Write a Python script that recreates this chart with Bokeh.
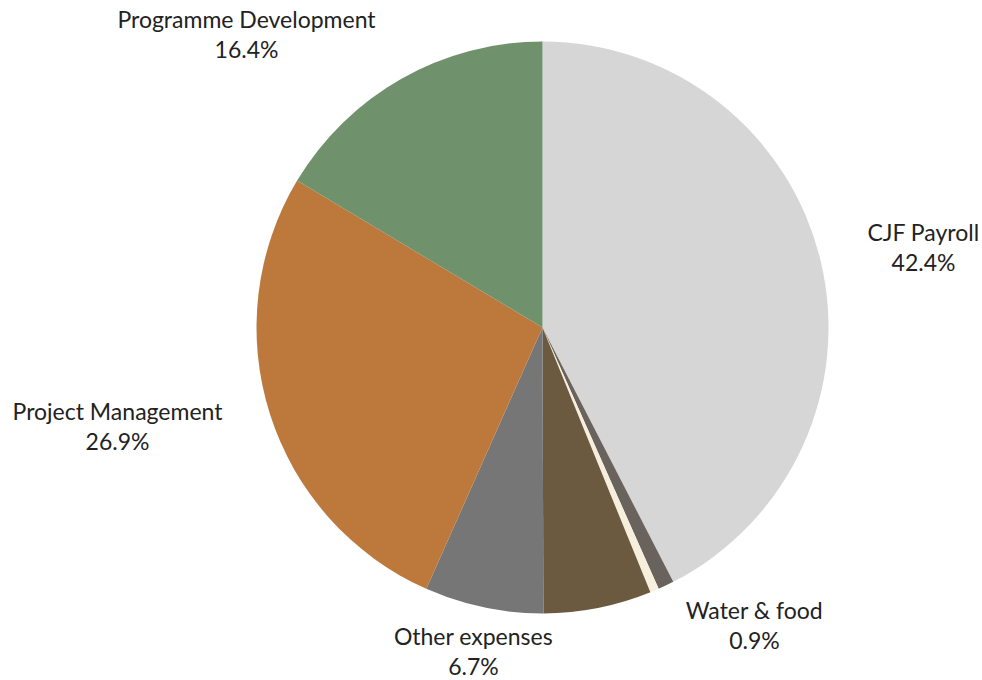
import math
from bokeh.plotting import figure
from bokeh.models import Range1d, ColumnDataSource
from bokeh.core.properties import value
from bokeh.embed import file_html
from bokeh.resources import INLINE

# ---- data (clockwise from 12 o'clock) ----
categories = ["CJF Payroll", "Water & food", "Unlabelled A", "Unlabelled B",
              "Other expenses", "Project Management", "Programme Development"]
shares = [42.4, 0.9, 0.5, 6.1, 6.7, 26.9, 16.4]
show_label = [True, True, False, False, True, True, True]
colors = ["#d6d6d6", "#6a625d", "#f5efdb", "#6b5a3f", "#767676", "#bc793b", "#6f916c"]

# label anchor positions (image pixels) for the shown labels
label_px = {"CJF Payroll": (923, 246),
            "Water & food": (754, 624),
            "Other expenses": (473, 650),
            "Project Management": (117, 425),
            "Programme Development": (246, 33)}

W, H = 982, 680
CX, CY, R = 542, 327, 286  # image pixels


def py(y):
    return H - y


total = sum(shares)
starts, ends = [], []
cum = 0.0
for s in shares:
    a0 = math.pi / 2 - 2 * math.pi * cum / total
    cum += s
    a1 = math.pi / 2 - 2 * math.pi * cum / total
    starts.append(a0)
    ends.append(a1)

src = ColumnDataSource(dict(x=[CX] * len(shares), y=[py(CY)] * len(shares),
                            start=starts, end=ends, color=colors, cat=categories))

p = figure(width=W, height=H, output_backend="svg", toolbar_location=None,
           x_range=Range1d(0, W), y_range=Range1d(0, H),
           min_border=0)
p.axis.visible = False
p.grid.visible = False
p.outline_line_color = None
p.background_fill_color = "white"
p.border_fill_color = "white"

p.wedge(x="x", y="y", radius=R, start_angle="start", end_angle="end",
        direction="clock", fill_color="color", line_color=None, source=src)

lx, ly1, ly2, t1, t2 = [], [], [], [], []
for c, s, sh in zip(categories, shares, show_label):
    if not sh:
        continue
    x, y = label_px[c]
    lx.append(x)
    ly1.append(py(y - 15))
    ly2.append(py(y + 15))
    t1.append(c)
    t2.append(f"{s:.1f}%")

common = dict(text_font=value("Lato"), text_font_size="23px", text_color="#222222",
              text_align="center", text_baseline="middle")
p.text(x=lx, y=ly1, text=t1, **common)
p.text(x=lx, y=ly2, text=t2, **common)

open("out.html", "w").write(file_html(p, INLINE))
